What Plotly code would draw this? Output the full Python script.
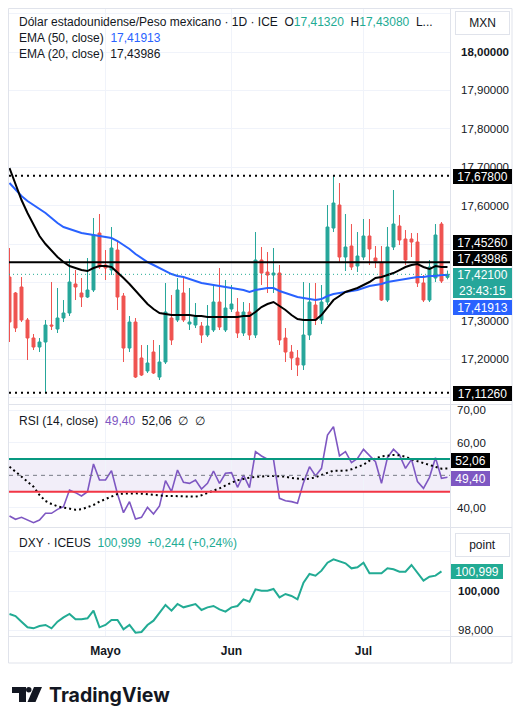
import plotly.graph_objects as go
import pandas as pd

# ---------------- data ----------------
dates = [d.strftime("%Y-%m-%d") for d in pd.bdate_range("2026-04-09", "2026-07-21")]

opens = [17.4140, 17.3724, 17.3880, 17.3021, 17.2552, 17.2317, 17.2448, 17.2890, 17.2786, 17.3073,
         17.3203, 17.3958, 17.3724, 17.3619, 17.3802, 17.5286, 17.4453, 17.4322, 17.4843, 17.3646,
         17.2291, 17.2968, 17.2031, 17.1693, 17.2187, 17.1536, 17.1927, 17.3073, 17.3021, 17.3724,
         17.2916, 17.2890, 17.2864, 17.2630, 17.2760, 17.3489, 17.2760, 17.3307, 17.3229, 17.2682,
         17.3229, 17.2630, 17.4583, 17.4270, 17.4192, 17.4244, 17.2552, 17.2187, 17.2031, 17.1849,
         17.2630, 17.3411, 17.3021, 17.3489, 17.5416, 17.6015, 17.4661, 17.4947, 17.4427, 17.4661,
         17.5208, 17.4635, 17.4505, 17.3541, 17.4921, 17.5468, 17.5130, 17.5130, 17.5052, 17.3984,
         17.3541, 17.4114, 17.5520, 17.4132]
highs = [17.4895, 17.3750, 17.4140, 17.3073, 17.2656, 17.2552, 17.3021, 17.4010, 17.3854, 17.3541,
         17.4609, 17.4322, 17.4114, 17.4635, 17.5677, 17.5781, 17.4843, 17.5442, 17.5104, 17.3724,
         17.3125, 17.3073, 17.2369, 17.2369, 17.2500, 17.2369, 17.3984, 17.3672, 17.4114, 17.4140,
         17.3854, 17.3463, 17.2968, 17.3411, 17.3932, 17.4375, 17.4062, 17.3932, 17.3593, 17.3489,
         17.3463, 17.5312, 17.4921, 17.4791, 17.4895, 17.4453, 17.2812, 17.2369, 17.2239, 17.4010,
         17.3984, 17.3984, 17.3932, 17.6015, 17.6780, 17.6588, 17.5781, 17.5520, 17.5312, 17.5651,
         17.5651, 17.4947, 17.4947, 17.5442, 17.6406, 17.5755, 17.5364, 17.5286, 17.5286, 17.4192,
         17.4583, 17.5520, 17.5572, 17.4308]
lows = [17.2448, 17.2708, 17.2968, 17.1979, 17.2239, 17.2187, 17.1126, 17.2760, 17.2682, 17.2968,
        17.3125, 17.3541, 17.3359, 17.3593, 17.3750, 17.4348, 17.4062, 17.4192, 17.3281, 17.1927,
        17.2187, 17.1510, 17.1562, 17.1640, 17.1614, 17.1458, 17.1875, 17.2369, 17.2968, 17.2968,
        17.2760, 17.2812, 17.2422, 17.2578, 17.2708, 17.2760, 17.2708, 17.3229, 17.2552, 17.2604,
        17.2500, 17.2552, 17.3932, 17.3724, 17.3724, 17.2369, 17.1927, 17.1719, 17.1562, 17.1719,
        17.2500, 17.2890, 17.2916, 17.3411, 17.5312, 17.4531, 17.4296, 17.4322, 17.4270, 17.4583,
        17.4453, 17.4375, 17.3515, 17.3489, 17.4843, 17.4973, 17.4453, 17.4661, 17.3880, 17.3489,
        17.3489, 17.4010, 17.3984, 17.4080]
closes = [17.2968, 17.2812, 17.3021, 17.2552, 17.2317, 17.2448, 17.2890, 17.2864, 17.3073, 17.3203,
          17.4010, 17.3880, 17.3619, 17.3802, 17.5234, 17.4401, 17.4375, 17.4895, 17.3619, 17.2291,
          17.2968, 17.1536, 17.1588, 17.1901, 17.1640, 17.1927, 17.3229, 17.2500, 17.3802, 17.3021,
          17.2968, 17.3099, 17.2630, 17.2864, 17.3489, 17.2838, 17.3333, 17.3437, 17.2682, 17.3229,
          17.2630, 17.4583, 17.4244, 17.4192, 17.4244, 17.2500, 17.2187, 17.2031, 17.1849, 17.2630,
          17.3489, 17.3021, 17.3489, 17.5442, 17.6067, 17.4661, 17.4921, 17.4401, 17.4687, 17.5208,
          17.4869, 17.4557, 17.3541, 17.4921, 17.5520, 17.5104, 17.4583, 17.5052, 17.3984, 17.3541,
          17.4401, 17.5234, 17.4036, 17.4210]

ema20 = [17.6979, 17.6562, 17.6145, 17.5807, 17.5494, 17.5208, 17.5000, 17.4817, 17.4661, 17.4531,
         17.4427, 17.4375, 17.4322, 17.4296, 17.4375, 17.4427, 17.4427, 17.4401, 17.4270, 17.4114,
         17.3958, 17.3776, 17.3593, 17.3437, 17.3307, 17.3203, 17.3177, 17.3151, 17.3151, 17.3151,
         17.3151, 17.3125, 17.3125, 17.3099, 17.3099, 17.3099, 17.3099, 17.3099, 17.3099, 17.3125,
         17.3125, 17.3229, 17.3359, 17.3437, 17.3489, 17.3385, 17.3281, 17.3151, 17.3047, 17.3021,
         17.3021, 17.3021, 17.3151, 17.3359, 17.3541, 17.3646, 17.3750, 17.3802, 17.3854, 17.3932,
         17.4010, 17.4114, 17.4140, 17.4192, 17.4244, 17.4322, 17.4401, 17.4453, 17.4479, 17.4401,
         17.4348, 17.4427, 17.4401, 17.43986]
ema50 = [17.6588, 17.6406, 17.6250, 17.6119, 17.6015, 17.5911, 17.5807, 17.5677, 17.5546, 17.5442,
         17.5390, 17.5338, 17.5286, 17.5260, 17.5234, 17.5208, 17.5182, 17.5156, 17.5078, 17.4973,
         17.4869, 17.4739, 17.4635, 17.4531, 17.4453, 17.4375, 17.4296, 17.4218, 17.4166, 17.4140,
         17.4088, 17.4036, 17.3984, 17.3958, 17.3932, 17.3906, 17.3880, 17.3854, 17.3828, 17.3802,
         17.3750, 17.3802, 17.3828, 17.3854, 17.3854, 17.3776, 17.3724, 17.3672, 17.3619, 17.3593,
         17.3567, 17.3541, 17.3567, 17.3646, 17.3697, 17.3724, 17.3750, 17.3776, 17.3802, 17.3854,
         17.3906, 17.3932, 17.3958, 17.4010, 17.4036, 17.4062, 17.4088, 17.4114, 17.4140, 17.4140,
         17.4166, 17.4166, 17.4192, 17.41913]

rsi = [37.55, 36.53, 37.14, 36.33, 35.51, 36.33, 38.37, 38.37, 39.59, 40.41,
       45.51, 44.69, 43.67, 45.00, 53.47, 48.57, 48.57, 51.43, 44.29, 38.57,
       41.94, 36.63, 37.14, 40.20, 38.16, 40.61, 48.37, 45.00, 51.63, 47.86,
       47.55, 48.57, 45.82, 47.55, 51.33, 47.55, 50.61, 50.82, 46.33, 50.10,
       46.22, 57.24, 55.92, 54.90, 54.90, 42.96, 42.24, 41.94, 41.43, 47.76,
       52.65, 49.80, 52.14, 62.35, 64.90, 55.92, 57.24, 53.88, 55.20, 57.96,
       56.12, 54.18, 47.55, 55.41, 57.96, 56.22, 52.14, 54.90, 48.06, 46.02,
       49.39, 55.41, 49.08, 49.40]
rsi_ma = [52.65, 51.12, 49.39, 48.06, 46.53, 43.98, 42.14, 41.22, 40.51, 40.10,
          39.80, 39.49, 39.59, 40.20, 40.92, 41.94, 42.76, 43.47, 44.29, 44.39,
          44.49, 44.49, 44.39, 44.18, 43.88, 43.67, 43.67, 43.67, 43.67, 43.67,
          43.57, 43.47, 43.88, 44.49, 45.31, 46.02, 46.94, 47.76, 48.47, 48.98,
          49.29, 49.49, 49.69, 49.80, 49.80, 49.80, 49.59, 49.18, 48.98, 48.78,
          48.98, 49.39, 50.10, 50.82, 51.43, 51.43, 51.43, 51.84, 52.55, 53.27,
          54.49, 55.20, 55.82, 56.02, 56.22, 56.12, 55.71, 54.90, 54.29, 53.67,
          53.16, 52.55, 52.04, 52.06]

dxy = [98.826, 98.723, 98.434, 98.145, 98.094, 98.213, 98.264, 98.094, 98.434, 98.655,
       98.826, 98.553, 98.553, 98.604, 98.996, 98.145, 98.264, 98.519, 98.519, 98.043,
       98.264, 97.872, 97.906, 98.264, 98.485, 98.894, 99.285, 98.996, 99.336, 99.166,
       99.234, 99.336, 99.030, 99.166, 99.234, 99.064, 98.945, 99.166, 99.234, 99.574,
       99.455, 100.085, 100.017, 100.017, 100.102, 99.677, 99.847, 99.745, 99.574, 100.426,
       100.868, 100.783, 101.038, 101.447, 101.617, 101.498, 101.413, 101.157, 101.209, 101.447,
       100.902, 100.902, 100.902, 101.157, 101.106, 100.987, 100.987, 101.328, 100.936, 100.528,
       100.732, 100.783, 100.999]

month_ticks = ["2026-05-01", "2026-06-01", "2026-07-01"]
month_labels = ["Mayo", "Jun", "Jul"]

price_ticks = [17.1, 17.2, 17.3, 17.4, 17.5, 17.6, 17.7, 17.8, 17.9, 18.0, 18.1]
price_labels = ["", "17,20000", "17,30000", "", "", "17,60000", "17,70000",
                "17,80000", "17,90000", "<b>18,00000</b>", ""]
rsi_ticks = [40, 60, 70]
rsi_labels = ["40,00", "60,00", "70,00"]
dxy_ticks = [98, 100, 102]
dxy_labels = ["98,000", "<b>100,000</b>", ""]

open_last, high_last = 17.41320, 17.43080
last_close = 17.42100
ema50_last = 17.41913
ema20_last = 17.43986
level_line = 17.45260
range_high = 17.67800
range_low = 17.11260
rsi_last = 49.40
rsi_ma_last = 52.06
rsi_upper, rsi_mid, rsi_lower = 55, 50, 45
dxy_last = 100.999
dxy_chg, dxy_pct = 0.244, 0.24
countdown = "23:43:15"

# ---------------- styling ----------------
W, H = 527, 711
UP, DN = "#26a69a", "#ef5350"
TEAL = "#22ab94"
BLUE = "#2962ff"
PURPLE = "#7e57c2"
TXT = "#131722"
GRID = "#f0f3fa"
BORDER = "#e0e3eb"
FONT = "Liberation Sans, Arial, sans-serif"


def X(p):
    return p / W


def Y(p):
    return 1 - p / H


def fmt(v, n):
    return f"{v:.{n}f}".replace(".", ",")


fig = go.Figure()

fig.add_trace(go.Candlestick(
    x=dates, open=opens, high=highs, low=lows, close=closes,
    increasing=dict(line=dict(color=UP, width=1), fillcolor=UP),
    decreasing=dict(line=dict(color=DN, width=1), fillcolor=DN),
    whiskerwidth=0, showlegend=False, hoverinfo="skip", xaxis="x", yaxis="y"))
fig.add_trace(go.Scatter(x=dates, y=ema50, mode="lines", line=dict(color=BLUE, width=2),
                         showlegend=False, hoverinfo="skip", xaxis="x", yaxis="y"))
fig.add_trace(go.Scatter(x=dates, y=ema20, mode="lines", line=dict(color="#000000", width=2),
                         showlegend=False, hoverinfo="skip", xaxis="x", yaxis="y"))
fig.add_trace(go.Scatter(x=dates, y=rsi, mode="lines", line=dict(color=PURPLE, width=1.6),
                         showlegend=False, hoverinfo="skip", xaxis="x", yaxis="y2"))
fig.add_trace(go.Scatter(x=dates, y=rsi_ma, mode="lines",
                         line=dict(color="#000000", width=2, dash="2px,3px"),
                         showlegend=False, hoverinfo="skip", xaxis="x", yaxis="y2"))
fig.add_trace(go.Scatter(x=dates[:len(dxy)], y=dxy, mode="lines", line=dict(color=TEAL, width=2),
                         showlegend=False, hoverinfo="skip", xaxis="x", yaxis="y3"))

shapes = []
# pane frame & separators
shapes.append(dict(type="rect", xref="paper", yref="paper", x0=X(8.5), x1=X(512), y0=Y(8.5), y1=Y(663),
                   line=dict(color=BORDER, width=1), fillcolor="rgba(0,0,0,0)", layer="above"))
shapes.append(dict(type="line", xref="paper", yref="paper", x0=X(450.5), x1=X(450.5), y0=Y(8.5), y1=Y(663),
                   line=dict(color=BORDER, width=1), layer="above"))
for yy in (404.5, 527.5, 636.5):
    shapes.append(dict(type="line", xref="paper", yref="paper", x0=X(8.5), x1=X(512), y0=Y(yy), y1=Y(yy),
                       line=dict(color=BORDER, width=1), layer="above"))

# main pane horizontal levels
for lv in (range_high, range_low):
    shapes.append(dict(type="line", xref="x domain", yref="y", x0=0, x1=1, y0=lv, y1=lv,
                       line=dict(color="#000000", width=2, dash="2px,4px")))
shapes.append(dict(type="line", xref="x domain", yref="y", x0=0, x1=1, y0=level_line, y1=level_line,
                   line=dict(color="#000000", width=2)))
shapes.append(dict(type="line", xref="x domain", yref="y", x0=0, x1=1, y0=last_close, y1=last_close,
                   line=dict(color=TEAL, width=1, dash="1px,3px")))

# RSI bands
shapes.append(dict(type="rect", xref="x domain", yref="y2", x0=0, x1=1, y0=rsi_lower, y1=rsi_upper,
                   fillcolor="rgba(126,87,194,0.10)", line=dict(width=0), layer="below"))
shapes.append(dict(type="line", xref="x domain", yref="y2", x0=0, x1=1, y0=rsi_upper, y1=rsi_upper,
                   line=dict(color="#089981", width=2)))
shapes.append(dict(type="line", xref="x domain", yref="y2", x0=0, x1=1, y0=rsi_lower, y1=rsi_lower,
                   line=dict(color="#f23645", width=2)))
shapes.append(dict(type="line", xref="x domain", yref="y2", x0=0, x1=1, y0=rsi_mid, y1=rsi_mid,
                   line=dict(color="#787b86", width=1, dash="4px,4px")))

# TradingView logo glyph
shapes.append(dict(type="rect", xref="paper", yref="paper", x0=X(12), x1=X(26), y0=Y(687), y1=Y(693),
                   fillcolor=TXT, line=dict(width=0)))
shapes.append(dict(type="rect", xref="paper", yref="paper", x0=X(19), x1=X(26), y0=Y(687), y1=Y(702),
                   fillcolor=TXT, line=dict(width=0)))
shapes.append(dict(type="circle", xref="paper", yref="paper", x0=X(26), x1=X(31.5), y0=Y(687), y1=Y(692.5),
                   fillcolor=TXT, line=dict(width=0)))
path = "M {:.5f},{:.5f} L {:.5f},{:.5f} L {:.5f},{:.5f} L {:.5f},{:.5f} Z".format(
    X(34), Y(687), X(42), Y(687), X(35.5), Y(702), X(27.5), Y(702))
shapes.append(dict(type="path", xref="paper", yref="paper", path=path, fillcolor=TXT, line=dict(width=0)))

ann = []


def text(t, x, y, size=12, color=TXT, anchor="left", bold=False, family=FONT):
    ann.append(dict(xref="paper", yref="paper", x=X(x), y=Y(y), xanchor=anchor, yanchor="middle",
                    text=(f"<b>{t}</b>" if bold else t), showarrow=False,
                    font=dict(size=size, color=color, family=family)))


def box(t, x0, x1, y, bg, fg="#ffffff", h=15, size=12, border=None):
    ann.append(dict(xref="paper", yref="paper", x=X(x0), y=Y(y), xanchor="left", yanchor="middle",
                    text=t, showarrow=False, bgcolor=bg, width=x1 - x0, height=h, borderpad=0,
                    bordercolor=border or bg, borderwidth=1 if border else 0, align="center",
                    font=dict(size=size, color=fg, family=FONT)))


S = "\u00a0\u00a0"
text("Dólar estadounidense/Peso mexicano · 1D · ICE" + S +
     f"O<span style='color:{TEAL}'>{fmt(open_last, 5)}</span>" + S +
     f"H<span style='color:{TEAL}'>{fmt(high_last, 5)}</span>" + S + "L...", 17, 21.5)
text(f"EMA (50, close){S}<span style='color:{BLUE}'>{fmt(ema50_last, 5)}</span>", 17, 38)
text(f"EMA (20, close){S}{fmt(ema20_last, 5)}", 17, 54.5)
text(f"RSI (14, close){S}<span style='color:{PURPLE}'>{fmt(rsi_last, 2)}</span>{S}{fmt(rsi_ma_last, 2)}{S}∅{S}∅",
     17, 421)
text(f"DXY · ICEUS{S}<span style='color:{TEAL}'>{fmt(dxy_last, 3)}{S}+{fmt(dxy_chg, 3)} (+{fmt(dxy_pct, 2)}%)</span>",
     17, 543)

box("MXN", 455, 508, 23, "#ffffff", fg=TXT, h=22, border=BORDER)
box("point", 455, 508, 545, "#ffffff", fg=TXT, h=22, border=BORDER)

box(fmt(range_high, 5), 453, 512, 176, "#000000")
box(fmt(level_line, 5), 453, 512, 242, "#000000")
box(fmt(ema20_last, 5), 453, 512, 258.5, "#000000")
box(f"{fmt(last_close, 5)}<br>{countdown}", 453, 512, 283, UP, h=30)
box(fmt(ema50_last, 5), 453, 512, 307, BLUE)
box(fmt(range_low, 5), 453, 512, 393, "#000000")
box(fmt(rsi_ma_last, 2), 451, 490, 460.5, "#000000")
box(fmt(rsi_last, 2), 451, 490, 478, PURPLE)
box(fmt(dxy_last, 3), 451, 503, 571.5, TEAL)

text("TradingView", 47, 694.5, size=19.5, bold=True, family="Inter, Roboto, sans-serif")

axis_font = dict(size=11.5, color=TXT, family=FONT)
fig.update_layout(
    width=W, height=H, autosize=False,
    margin=dict(l=0, r=0, t=0, b=0, pad=0),
    paper_bgcolor="#ffffff", plot_bgcolor="#ffffff",
    showlegend=False, shapes=shapes, annotations=ann,
    xaxis=dict(domain=[X(9), X(450)], type="category", range=[-0.083, 73.42],
               tickvals=month_ticks, ticktext=[f"<b>{m}</b>" for m in month_labels],
               showgrid=True, gridcolor=GRID, gridwidth=1, zeroline=False, showline=False,
               ticks="outside", ticklen=4, tickcolor="rgba(0,0,0,0)",
               tickfont=dict(size=12, color=TXT, family=FONT),
               anchor="y3", rangeslider=dict(visible=False), fixedrange=True),
    yaxis=dict(domain=[Y(404), Y(8)], range=[17.08333, 18.11458], side="right", anchor="x",
               tickvals=price_ticks, ticktext=price_labels, showgrid=True, gridcolor=GRID,
               zeroline=False, showline=False, ticks="", ticklabelstandoff=10, tickfont=axis_font,
               fixedrange=True),
    yaxis2=dict(domain=[Y(527), Y(405)], range=[34.18, 71.53], side="right", anchor="x",
                tickvals=rsi_ticks, ticktext=rsi_labels, showgrid=True, gridcolor=GRID,
                zeroline=False, showline=False, ticks="", ticklabelstandoff=6, tickfont=axis_font,
                fixedrange=True),
    yaxis3=dict(domain=[Y(636), Y(528)], range=[97.702, 103.217], side="right", anchor="x",
                tickvals=dxy_ticks, ticktext=dxy_labels, showgrid=True, gridcolor=GRID,
                zeroline=False, showline=False, ticks="", ticklabelstandoff=7, tickfont=axis_font,
                fixedrange=True),
)

fig.write_html("out.html")
